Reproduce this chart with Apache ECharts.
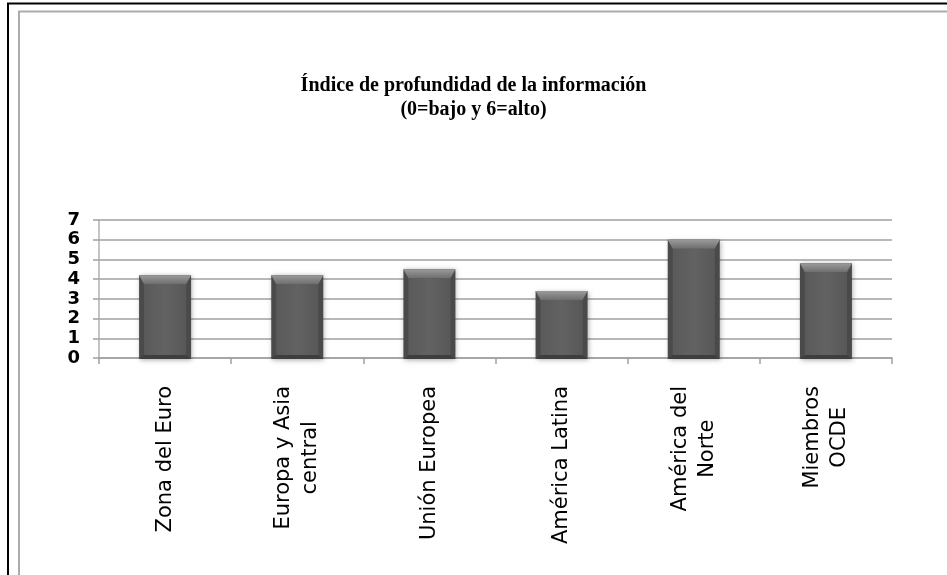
<!DOCTYPE html>
<html>
<head>
<meta charset="utf-8">
<script src="https://cdn.jsdelivr.net/npm/echarts@6/dist/echarts.min.js"></script>
<style>
  html, body { margin: 0; padding: 0; background: #fff; }
  #chart { width: 947px; height: 575px; }
</style>
</head>
<body>
<div id="chart"></div>
<script>
// Regions (line breaks split the longer names into two lines)
const categories = [
  'Zona del Euro',
  'Europa y Asia\ncentral',
  'Unión Europea',
  'América Latina',
  'América del\nNorte',
  'Miembros\nOCDE'
];
// Depth of credit information index (0 = low, 6 = high)
const depthIndex = [4.2, 4.2, 4.5, 3.4, 6.0, 4.8];
const yTicks = { min: 0, max: 7, interval: 1 };
const titleLines = ['Índice de profundidad de la información', '(0=bajo y 6=alto)'];

const chart = echarts.init(document.getElementById('chart'), null, { renderer: 'canvas' });

// Bevelled bar: dark sides, lighter chamfered top, flat face
function renderBar(params, api) {
  const idx = api.value(0);
  const val = api.value(1);
  const top = api.coord([idx, val]);
  const base = api.coord([idx, 0]);
  const w = 52;
  const l = top[0] - w / 2, r = top[0] + w / 2;
  const t = top[1], b = base[1] + 1;
  const bev = 9, side = 5, bot = 4;
  return {
    type: 'group',
    children: [
      {
        type: 'rect',
        shape: { x: l, y: t, width: w, height: b - t },
        style: {
          fill: '#4a4a4a',
          shadowBlur: 5, shadowColor: 'rgba(0,0,0,0.35)', shadowOffsetX: 1, shadowOffsetY: 1
        }
      },
      {
        type: 'rect',
        shape: { x: l + side, y: t + bev, width: w - 2 * side, height: (b - bot) - (t + bev) },
        style: {
          fill: new echarts.graphic.LinearGradient(0, 0, 1, 0, [
            { offset: 0, color: '#5a5a5a' },
            { offset: 0.5, color: '#626262' },
            { offset: 1, color: '#585858' }
          ])
        }
      },
      {
        type: 'polygon',
        shape: { points: [[l, t], [r, t], [r - side, t + bev], [l + side, t + bev]] },
        style: {
          fill: new echarts.graphic.LinearGradient(0, 0, 0, 1, [
            { offset: 0, color: '#9a9a9a' },
            { offset: 1, color: '#6e6e6e' }
          ])
        }
      },
      {
        type: 'polygon',
        shape: { points: [[l, b], [r, b], [r - side, b - bot], [l + side, b - bot]] },
        style: { fill: '#3e3e3e' }
      }
    ]
  };
}

const option = {
  backgroundColor: '#ffffff',
  animation: false,
  title: {
    text: titleLines.join('\n'),
    left: 'center',
    top: 69,
    textStyle: {
      fontFamily: 'Liberation Serif',
      fontWeight: 'bold',
      fontSize: 20,
      lineHeight: 24,
      color: '#000'
    }
  },
  graphic: [
    {
      type: 'polyline',
      shape: { points: [[8, 575], [8, 3.5], [947, 3.5]] },
      style: { stroke: '#000', lineWidth: 2, fill: null }
    },
    {
      type: 'polyline',
      shape: { points: [[19, 575], [19, 11.5], [947, 11.5]] },
      style: { stroke: '#ababab', lineWidth: 2, fill: null }
    }
  ],
  grid: { left: 99, right: 55, top: 220, bottom: 217, containLabel: false },
  xAxis: {
    type: 'category',
    data: categories,
    axisLine: { lineStyle: { color: '#a0a0a0', width: 1.5 } },
    axisTick: { show: true, length: 6, lineStyle: { color: '#a0a0a0', width: 1.5 } },
    axisLabel: {
      interval: 0,
      rotate: 90,
      margin: 28,
      formatter: v => v.split('\n').map(s => '{c|' + s + '}').join('\n'),
      rich: {
        c: {
          align: 'center',
          fontFamily: 'DejaVu Sans',
          fontSize: 21,
          lineHeight: 27,
          color: '#000'
        }
      }
    }
  },
  yAxis: {
    type: 'value',
    min: yTicks.min,
    max: yTicks.max,
    interval: yTicks.interval,
    axisLine: { show: true, lineStyle: { color: '#b0b0b0', width: 1.5 } },
    axisTick: { show: true, length: 6, lineStyle: { color: '#a0a0a0', width: 1.5 } },
    splitLine: { lineStyle: { color: '#a0a0a0', width: 1.5 } },
    axisLabel: {
      margin: 19,
      showMinLabel: true,
      showMaxLabel: true,
      hideOverlap: false,
      fontFamily: 'DejaVu Sans',
      fontWeight: 'bold',
      fontSize: 18,
      lineHeight: 16,
      color: '#000'
    }
  },
  series: [
    {
      type: 'custom',
      renderItem: renderBar,
      encode: { x: 0, y: 1 },
      data: categories.map((c, i) => [i, depthIndex[i]])
    }
  ]
};

chart.setOption(option);
</script>
</body>
</html>
